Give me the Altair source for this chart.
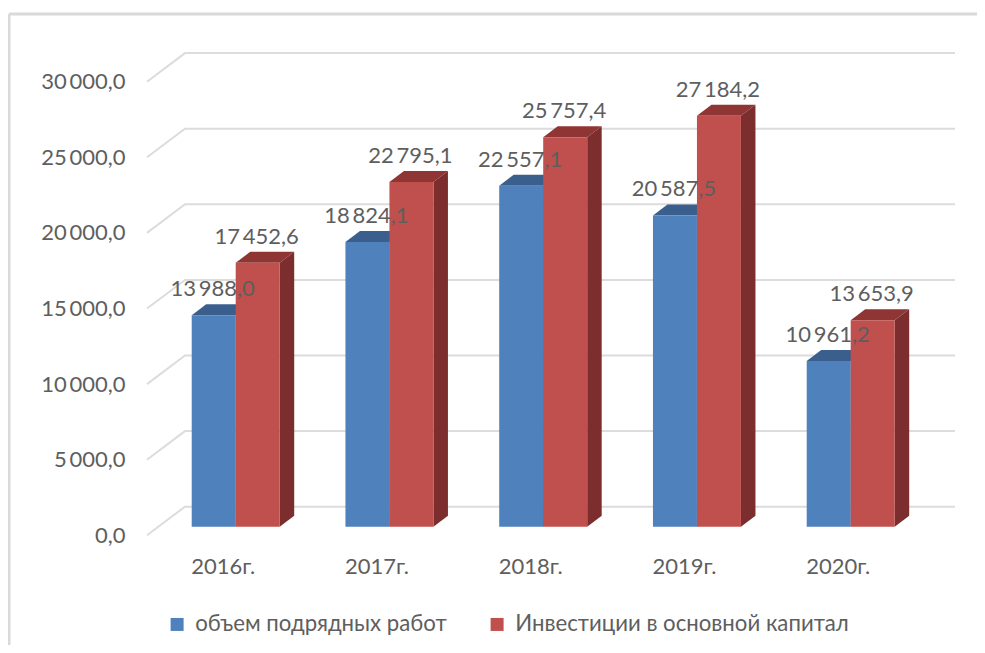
import altair as alt
import pandas as pd

YEARS = ["2016г.", "2017г.", "2018г.", "2019г.", "2020г."]
SERIES = ["объем подрядных работ", "Инвестиции в основной капитал"]
WORKS = [13988.0, 18824.1, 22557.1, 20587.5, 10961.2]
INVEST = [17452.6, 22795.1, 25757.4, 27184.2, 13653.9]
TICKS = [0, 5000, 10000, 15000, 20000, 25000, 30000]
FRONT = ["#4F81BD", "#C0504D"]
TOP = ["#3A5F8C", "#8F3634"]
SIDE = ["#375A85", "#7B2E2D"]
GRID = "#DCDCDC"
TEXT = "#5E5E5E"
FONT = "Lato"
THIN = "\u2009"

W, H = 969, 637
PX_X = 153.75          # pixels per category
PX_Y = 75.6 / 5000     # pixels per unit of value
X0_PAGE, Y0_PAGE = 235.7 - 8, 526.7 - 8   # where category 0 / value 0 fall in the chart
BAR = 44 / PX_X
DX, DV = 14.5 / PX_X, 11 / PX_Y
WALL_V = 20 / PX_Y
AXIS_V = -8.6 / PX_Y
AX_L, AX_R, GRID_R = (147 - 235.7) / PX_X, (185 - 235.7) / PX_X, (955 - 235.7) / PX_X

x_scale = alt.Scale(domain=[-X0_PAGE / PX_X, (W - X0_PAGE) / PX_X], nice=False, zero=False)
y_scale = alt.Scale(domain=[(Y0_PAGE - H) / PX_Y, Y0_PAGE / PX_Y], nice=False, zero=False)

x_labels = "[" + ",".join(f'"{y}"' for y in YEARS) + "][datum.value]"
x_axis = alt.Axis(values=list(range(len(YEARS))), labelExpr=x_labels, title=None, domain=False,
                  ticks=False, grid=False, labelFont=FONT, labelFontSize=22, labelColor=TEXT,
                  labelOffset=-13, offset=-(H - (556 - 8)), labelPadding=0, labelBaseline="top",
                  labelFlush=False, labelOverlap=False)
y_axis = alt.Axis(values=TICKS, title=None, domain=False, ticks=False, grid=False, labelFont=FONT,
                  labelFontSize=22, labelColor=TEXT, labelPadding=0, offset=-(125 - 8),
                  labelOffset=8.6, labelFlush=False, labelOverlap=False,
                  labelExpr=f"replace(replace(format(datum.value, ',.1f'), ',', '{THIN}'), '.', ',')")
X = alt.X("x:Q", scale=x_scale, axis=x_axis)
Y = alt.Y("y:Q", scale=y_scale, axis=y_axis)

# wall grid lines
grid_rows = []
for t in TICKS:
    grid_rows += [{"t": t, "k": 0, "x": AX_L, "y": t + AXIS_V},
                  {"t": t, "k": 1, "x": AX_R, "y": t + WALL_V},
                  {"t": t, "k": 2, "x": GRID_R, "y": t + WALL_V}]
grid = alt.Chart(pd.DataFrame(grid_rows)).mark_line(color=GRID, strokeWidth=2).encode(
    x=X, y=Y, detail="t:N", order="k:Q")

# frame of the picture
frame_v = alt.Chart(pd.DataFrame({"a": [0]})).mark_rule(color="#D9D9D9", strokeWidth=3).encode(
    x=alt.value(1), y=alt.value(6), y2=alt.value(H))
frame_h = alt.Chart(pd.DataFrame({"a": [0]})).mark_rule(color="#D9D9D9", strokeWidth=3).encode(
    x=alt.value(1), x2=alt.value(W), y=alt.value(6))

layers = [frame_v, frame_h, grid]
labels = []
for s, (name, vals) in enumerate(zip(SERIES, [WORKS, INVEST])):
    off = (s - 1) * BAR
    top, side, front = [], [], []
    for i, v in enumerate(vals):
        l = i + off
        r = l + BAR
        top += [{"b": i, "x": l, "y": v, "y2": v},
                {"b": i, "x": l + DX, "y": v, "y2": v + DV},
                {"b": i, "x": r, "y": v, "y2": v + DV},
                {"b": i, "x": r + DX, "y": v + DV, "y2": v + DV}]
        side += [{"b": i, "x": r, "y": 0, "y2": v},
                 {"b": i, "x": r + DX, "y": DV, "y2": v + DV}]
        front.append({"x": l, "x2": r, "y": 0, "y2": v, "series": name})
        txt = f"{v:,.1f}".replace(",", THIN).replace(".", ",")
        labels.append({"x": (l + r) / 2, "y": v, "label": txt})
    layers.append(alt.Chart(pd.DataFrame(top)).mark_area(color=TOP[s], opacity=1).encode(
        x=X, y=Y, y2="y2:Q", detail="b:N"))
    layers.append(alt.Chart(pd.DataFrame(side)).mark_area(color=SIDE[s], opacity=1).encode(
        x=X, y=Y, y2="y2:Q", detail="b:N"))
    layers.append(alt.Chart(pd.DataFrame(front)).mark_rect().encode(
        x=X, x2="x2:Q", y=Y, y2="y2:Q",
        color=alt.Color("series:N", scale=alt.Scale(domain=SERIES, range=FRONT),
                        legend=alt.Legend(title=None, orient="none", legendX=171 - 8 - 5, legendY=613 - 8,
                                          direction="horizontal", columns=2, symbolType="square",
                                          symbolSize=169, symbolStrokeWidth=0, symbolOpacity=1,
                                          labelFont=FONT, labelFontSize=22.2, labelColor=TEXT,
                                          labelLimit=400, columnPadding=39, labelOffset=7))))

layers.append(alt.Chart(pd.DataFrame(labels)).mark_text(
    font=FONT, fontSize=22, color=TEXT, baseline="middle", align="center", dx=-1, dy=-26).encode(
    x=X, y=Y, text="label:N"))

chart = alt.layer(*layers).properties(
    width=W, height=H, padding=0, autosize=alt.AutoSizeParams(type="none"), background="white",
).configure_view(stroke=None)

chart.save("out.html", embed_options={"renderer": "svg", "actions": False})
